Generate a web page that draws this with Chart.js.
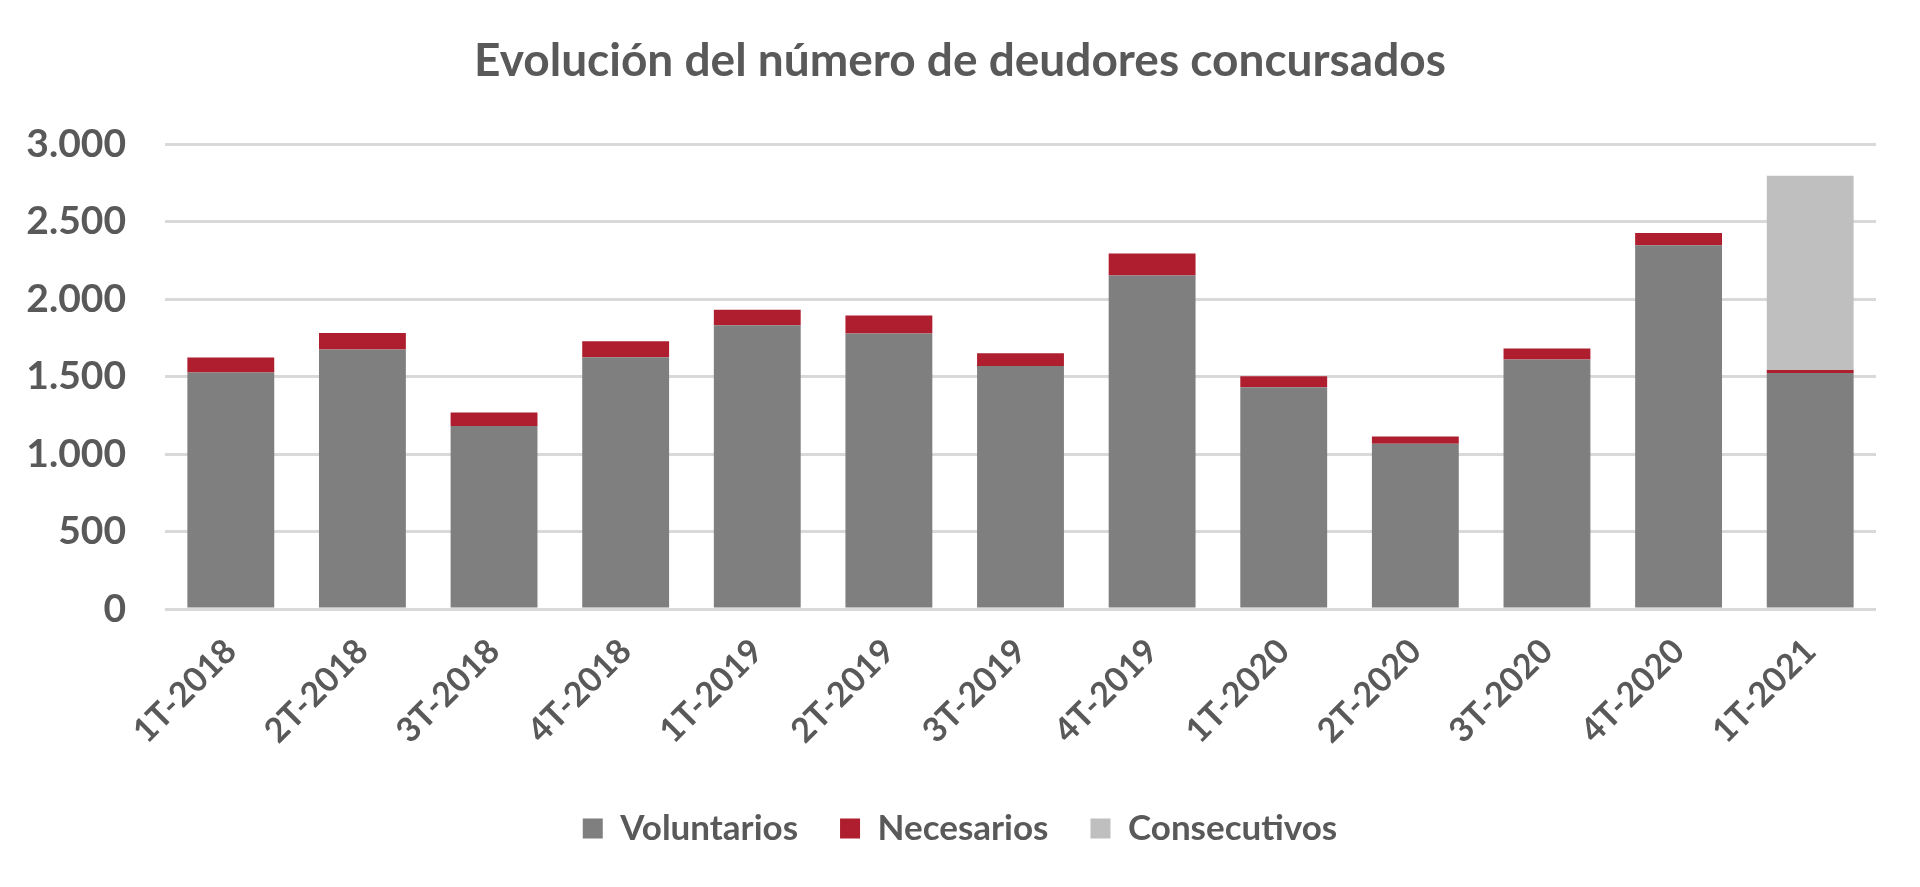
<!DOCTYPE html>
<html>
<head>
<meta charset="utf-8">
<script src="https://cdn.jsdelivr.net/npm/chart.js@4/dist/chart.umd.min.js"></script>
<style>
  html, body { margin: 0; padding: 0; background: #fff; }
  #wrap { width: 1920px; height: 887px; }
</style>
</head>
<body>
<div id="wrap"><canvas id="chart" width="1920" height="887"></canvas></div>
<script>
const titleText = 'Evolución del número de deudores concursados';
const quarters = ['1T-2018', '2T-2018', '3T-2018', '4T-2018', '1T-2019', '2T-2019', '3T-2019',
  '4T-2019', '1T-2020', '2T-2020', '3T-2020', '4T-2020', '1T-2021'];
const voluntarios = [1526, 1675, 1181, 1625, 1832, 1778, 1569, 2153, 1431, 1067, 1610, 2347, 1523];
const necesarios = [97, 107, 88, 103, 99, 116, 82, 142, 71, 47, 71, 80, 20];
const consecutivos = [null, null, null, null, null, null, null, null, null, null, null, null, 1254];

const textColor = '#595959';
const fontFamily = 'Lato, "Open Sans", sans-serif';

const fmt = (v) => String(v).replace(/\B(?=(\d{3})+(?!\d))/g, '.');

Chart.defaults.font.family = fontFamily;
Chart.defaults.color = textColor;

// center title and legend on the whole canvas, not on the padded area
const centerBlocks = {
  id: 'centerBlocks',
  afterLayout(chart) {
    [chart.titleBlock, chart.legend].forEach((b) => {
      if (!b) return;
      const shift = (chart.width - b.right - b.left) / 2;
      b.left += shift;
      b.right += shift;
      if (b.legendHitBoxes) b.legendHitBoxes.forEach((h) => { h.left += shift; });
    });
  },
};

new Chart(document.getElementById('chart'), {
  type: 'bar',
  data: {
    labels: quarters,
    datasets: [
      { label: 'Voluntarios', data: voluntarios, backgroundColor: '#7f7f7f' },
      { label: 'Necesarios', data: necesarios, backgroundColor: '#ae1e2e' },
      { label: 'Consecutivos', data: consecutivos, backgroundColor: '#bfbfbf' },
    ],
  },
  plugins: [centerBlocks],
  options: {
    responsive: false,
    animation: false,
    layout: { padding: { top: 34, right: 44, left: 27, bottom: 31 } },
    datasets: { bar: { categoryPercentage: 0.66, barPercentage: 1 } },
    plugins: {
      title: {
        display: true,
        text: titleText,
        color: textColor,
        font: { size: 46, weight: 'bold' },
        padding: { top: 0, bottom: 55 },
      },
      legend: {
        position: 'bottom',
        labels: {
          boxWidth: 20,
          boxHeight: 20,
          padding: 42,
          color: textColor,
          font: { size: 35, weight: 'bold' },
        },
      },
      tooltip: { enabled: false },
    },
    scales: {
      x: {
        stacked: true,
        grid: { display: false },
        border: { display: false },
        ticks: {
          color: textColor,
          font: { size: 34, weight: 'bold' },
          minRotation: 45,
          maxRotation: 45,
          padding: 14,
        },
        afterFit: (s) => { s.height = 160; },
      },
      y: {
        stacked: true,
        min: 0,
        max: 3000,
        grid: { color: '#d9d9d9', lineWidth: 3, drawTicks: false },
        border: { display: false },
        ticks: {
          stepSize: 500,
          color: textColor,
          padding: 39,
          font: { size: 39, weight: 'bold' },
          callback: (v) => fmt(v),
        },
        afterFit: (s) => { s.width = 138; },
      },
    },
  },
});
</script>
</body>
</html>
